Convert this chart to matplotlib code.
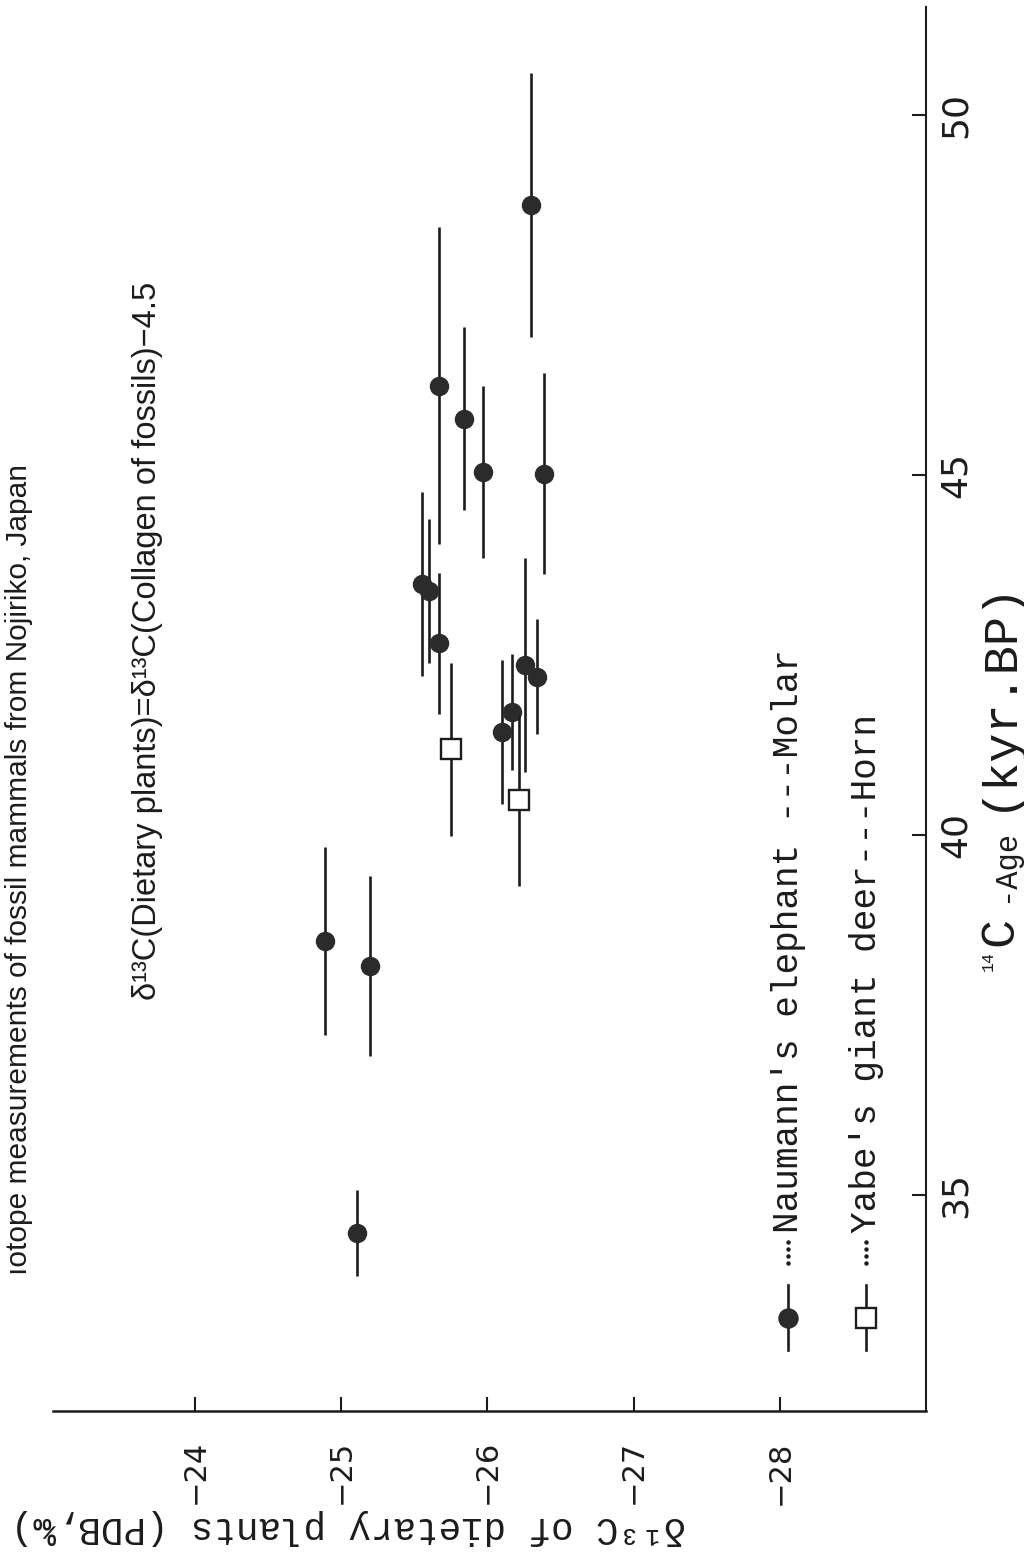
import matplotlib
matplotlib.use("Agg")
import matplotlib.pyplot as plt
from matplotlib import font_manager
from matplotlib.lines import Line2D

# ---------------- data ----------------
elephant_d13c = [-25.11, -24.89, -25.20, -25.55, -25.60, -25.67, -25.67, -25.84,
                 -25.97, -26.30, -26.39, -26.26, -26.34, -26.17, -26.10]
elephant_age = [34.47, 38.53, 38.18, 43.49, 43.39, 42.66, 46.24, 45.78,
                45.04, 48.75, 45.02, 42.36, 42.20, 41.71, 41.43]
elephant_err = [0.60, 1.31, 1.25, 1.28, 1.00, 0.98, 2.20, 1.27,
                1.19, 1.83, 1.40, 1.49, 0.80, 0.81, 1.00]

deer_d13c = [-25.75, -26.22]
deer_age = [41.19, 40.48]
deer_err = [1.20, 1.19]

d13c_ticks = [-24, -25, -26, -27, -28]
age_ticks = [35, 40, 45, 50]

# ---------------- fonts ----------------
avail = {f.name for f in font_manager.fontManager.ttflist}
mono = [f for f in ["Liberation Mono", "DejaVu Sans Mono"] if f in avail] + ["DejaVu Sans"]
narrow = [f for f in ["Liberation Sans Narrow", "Liberation Sans", "DejaVu Sans"] if f in avail]
sans = ["DejaVu Sans"]

INK = "#1c1c1c"
W, H = 1024, 1556
fig = plt.figure(figsize=(W / 100, H / 100), dpi=100)
fig.patch.set_facecolor("white")


def fx(x):
    return x / W


def fy(y):
    return 1 - y / H


# axes: left 53, right 926, top 7, bottom 1411 (pixels)
ax = fig.add_axes([fx(53), fy(1411), (926 - 53) / W, (1411 - 7) / H])
ax.set_xlim(-23.03, -29.0)
ax.set_ylim(32.0, 51.5)
ax.set_facecolor("white")

for s in ["top", "left"]:
    ax.spines[s].set_visible(False)
ax.spines["bottom"].set_linewidth(1.8)
ax.spines["right"].set_linewidth(1.5)
for s in ["bottom", "right"]:
    ax.spines[s].set_color(INK)

ax.yaxis.tick_right()
ax.set_xticks(d13c_ticks)
ax.set_yticks(age_ticks)
ax.tick_params(axis="x", direction="in", length=10, width=1.5, color=INK,
               pad=21, labelsize=22, labelrotation=90, labelcolor=INK)
ax.tick_params(axis="y", direction="in", length=10, width=1.5, color=INK,
               pad=9, labelsize=26, labelrotation=90, labelcolor=INK)
for lab in ax.get_xticklabels():
    lab.set_fontfamily(sans)
for lab in ax.get_yticklabels():
    lab.set_fontfamily(sans)
    lab.set_va("center")

# data
ax.errorbar(elephant_d13c, elephant_age, yerr=elephant_err, fmt="o",
            ms=13, mfc="#2b2b2b", mec="#2b2b2b", ecolor=INK,
            elinewidth=1.9, capsize=0, zorder=3)
ax.errorbar(deer_d13c, deer_age, yerr=deer_err, fmt="s",
            ms=15, mfc="white", mec=INK, mew=1.7, ecolor=INK,
            elinewidth=1.9, capsize=0, zorder=4)

# ---------------- legend (drawn rotated) ----------------
def legend_entry(xc, marker, mfc, ms, text):
    fig.add_artist(Line2D([fx(xc), fx(xc)], [fy(1350), fy(1285)],
                          transform=fig.transFigure, color=INK, lw=1.9))
    fig.add_artist(Line2D([fx(xc)], [fy(1318)], transform=fig.transFigure,
                          marker=marker, ms=ms, mfc=mfc, mec=INK if mfc == "white" else "#2b2b2b",
                          mew=1.7, ls="none"))
    fig.add_artist(Line2D([fx(xc)] * 4, [fy(1263), fy(1256), fy(1249), fy(1242)],
                          transform=fig.transFigure, marker="o", ms=2.2,
                          mfc=INK, mec=INK, ls="none"))
    fig.text(fx(xc), fy(1233), text, rotation=90, ha="center", va="bottom",
             fontsize=26, family=mono, color=INK)


legend_entry(788, "o", "#2b2b2b", 13, "Naumann's elephant ---Molar")
legend_entry(866, "s", "white", 15, "Yabe's giant deer---Horn")

# ---------------- texts ----------------
fig.text(fx(19), fy(1275), "ıotope measurements of fossil mammals from Nojiriko, Japan",
         rotation=90, ha="center", va="bottom", fontsize=21.5, family=narrow, color=INK)
fig.text(fx(148), fy(1000), "δ¹³C(Dietary plants)=δ¹³C(Collagen of fossils)−4.5",
         rotation=90, ha="center", va="bottom", fontsize=23.5, family=narrow, color=INK)


# x-axis (age) label, rotated; anchored on (baseline x, start y)
def rtext(xb, ys, s, size):
    fig.text(fx(xb), fy(ys), s, rotation=90, rotation_mode="anchor",
             ha="left", va="baseline", fontsize=size, family=mono, color=INK)


rtext(993, 971, "14", 12)
rtext(1012, 946, "C", 35)
rtext(1013, 902, "-Age", 22)
rtext(1010, 811, "(kyr.BP)", 35)

# y-axis (d13C) label, upside down
fig.text(fx(348), fy(1527), "δ¹³C of dietary plants (PDB,‰)", rotation=180,
         ha="center", va="center", fontsize=27, family=mono, color=INK)

fig.savefig("out.png", dpi=100, facecolor="white")
